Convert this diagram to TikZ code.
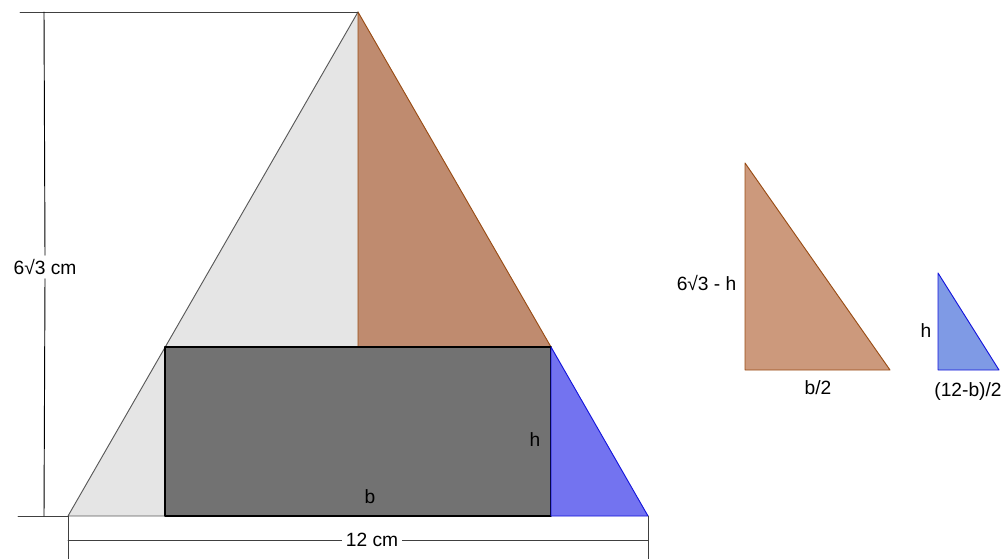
\documentclass[tikz,border=0pt]{standalone}
\usepackage{fontspec}
\setmainfont{Liberation Sans}
\usetikzlibrary{calc}
\definecolor{lightfill}{RGB}{229,229,229}
\definecolor{brownfill}{RGB}{191,139,111}
\definecolor{brownpale}{RGB}{204,153,124}
\definecolor{brownedge}{RGB}{153,76,20}
\definecolor{rectfill}{RGB}{114,114,114}
\definecolor{bluefill}{RGB}{115,115,240}
\definecolor{bluepale}{RGB}{127,154,229}
\definecolor{blueedge}{RGB}{20,20,220}
\tikzset{
  label text/.style={font=\fontsize{14.4}{16}\selectfont, inner sep=1pt},
  dim label/.style={label text, fill=white, inner sep=3pt},
  dim line/.style={draw=black!75, line width=0.6pt},
  brown part/.style={fill=brownfill, draw=brownedge, line width=0.7pt},
  blue part/.style={fill=bluefill, draw=blueedge, line width=0.7pt}
}

\begin{document}
\begin{tikzpicture}[x=0.75pt, y=-0.75pt, line cap=round, line join=round]
  \useasboundingbox (0,0) rectangle (1006,559);

  \coordinate (A) at (358,12);
  \coordinate (B) at (68,516);
  \coordinate (C) at (648,516);

  \coordinate (RL) at (165,516);
  \coordinate (RR) at (551,516);
  \coordinate (TL) at (165,347);
  \coordinate (TR) at (551,347);
  \coordinate (H) at (358,347);

  % big triangle
  \fill[lightfill] (A) -- (B) -- (C) -- cycle;
  \draw[black!65, line width=0.7pt] (A) -- (B) -- (RL);

  % upper piece
  \draw[brown part] (A) -- (H) -- (TR) -- cycle;

  % rectangle b x h
  \draw[fill=rectfill, line width=1.1pt] (TL) rectangle (RR);

  % right piece
  \draw[blue part] (TR) -- (RR) -- (C) -- cycle;

  \node[label text] (b) at (370,497) {b};
  \node[label text] (h) at (535,440) {h};

  % height dimension
  \draw[dim line] (20,12) -- (A);
  \draw[dim line] (18,516) -- (B);
  \node[dim label] (hgt) at (45,267) {6√3 cm};
  \draw[black, line width=0.7pt] (44,12) -- (hgt.north);
  \draw[black, line width=0.7pt] (hgt.south) -- (44,516);

  % base dimension
  \coordinate (DL) at (68,540);
  \coordinate (DR) at (648,540);
  \draw[dim line] (B) -- (68,559);
  \draw[dim line] (C) -- (648,559);
  \node[dim label] (base) at (372,540) {12 cm};
  \draw[dim line] (DL) -- (base.west);
  \draw[dim line] (base.east) -- (DR);

  % ---- similar triangles ----
  \coordinate (P1) at (745,163);
  \coordinate (P2) at (745,370);
  \coordinate (P3) at (890,370);
  \draw[fill=brownpale, draw=brownedge, line width=0.7pt] (P1) -- (P2) -- (P3) -- cycle;
  \node[label text, anchor=east] (ph) at (738,283) {6√3 - h};
  \node[label text] (pb) at (818,388) {b/2};

  \coordinate (Q1) at (938,273);
  \coordinate (Q2) at (938,370);
  \coordinate (Q3) at (999,370);
  \draw[fill=bluepale, draw=blueedge, line width=0.7pt] (Q1) -- (Q2) -- (Q3) -- cycle;
  \node[label text] (qh) at (926,331) {h};
  \node[label text] (qb) at (968,392) {(12-b)/2};

\end{tikzpicture}
\end{document}
